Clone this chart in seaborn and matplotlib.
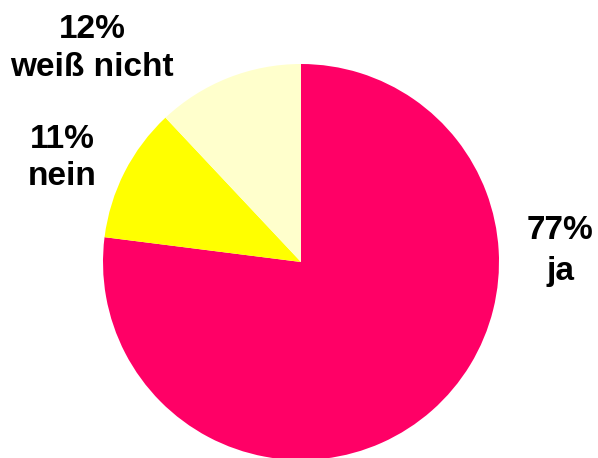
import matplotlib
matplotlib.use("Agg")
import matplotlib.pyplot as plt
import seaborn as sns

categories = ["ja", "nein", "weiß nicht"]
values = [77, 11, 12]
colors = ["#FF0066", "#FFFF00", "#FFFFCC"]
pct_labels = ["77%", "11%", "12%"]

sns.set_theme(style="white")
plt.rcParams['font.family'] = ['Liberation Sans', 'DejaVu Sans']

W, H = 598, 458
fig = plt.figure(figsize=(W / 100, H / 100), dpi=100)
ax = fig.add_axes([0, 0, 1, 1])

cx, cy, r = 301, 262, 198
ax.pie(values, colors=colors, startangle=90, counterclock=False, radius=1,
       center=(0, 0), wedgeprops=dict(linewidth=0))

def px(x):
    return (x - cx) / r

def py(y):
    return (cy - y) / r

ax.set_xlim(px(0), px(W))
ax.set_ylim(py(H), py(0))
ax.set_aspect('auto')
ax.axis('off')

# label positions in pixels (center x, baselines)
label_pos = {
    "ja": (560, 239, 280),
    "nein": (62, 148, 185),
    "weiß nicht": (92, 38, 76),
}
for cat, pct in zip(categories, pct_labels):
    x, b1, b2 = label_pos[cat]
    ax.text(px(x), py(b1), pct, ha='center', va='baseline', fontsize=24,
            fontweight='bold', color='black')
    ax.text(px(x), py(b2), cat, ha='center', va='baseline', fontsize=24,
            fontweight='bold', color='black')

fig.savefig("out.png", dpi=100)
